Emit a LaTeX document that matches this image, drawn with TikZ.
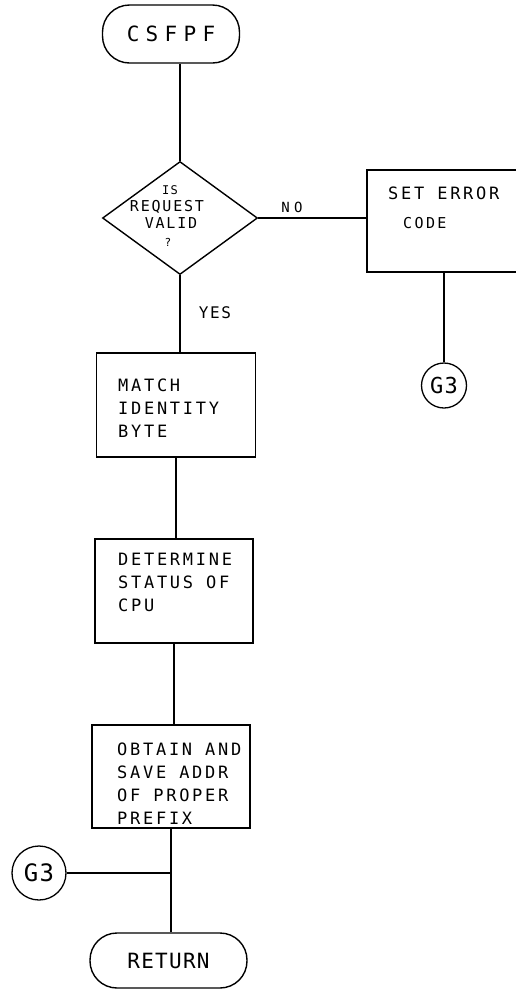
\documentclass[tikz,border=0pt]{standalone}
\usepackage{fontspec}
\newfontfamily\hand{DejaVu Sans Mono}
\usetikzlibrary{shapes.geometric}
\newcommand{\hw}[2]{\hand\fontsize{#1}{23}\selectfont\addfontfeature{LetterSpace=#2}}
\tikzset{
  ln/.style={line width=1.4pt},
  term/.style={draw, line width=1.4pt, rectangle, rounded corners=27pt, inner sep=0pt},
  proc/.style={draw, line width=1.4pt, rectangle, inner sep=0pt},
  conn/.style={draw, line width=1.3pt, circle, inner sep=0pt},
  dia/.style={draw, line width=1.4pt, diamond, inner sep=0pt},
  txt/.style={inner sep=0pt, align=left, anchor=north west, font=\hw{17}{16}},
  lbl/.style={inner sep=0pt},
}
\begin{document}
\begin{tikzpicture}[x=1pt,y=-1pt]
\useasboundingbox (0,0) rectangle (516,989);
% shapes
\node[term, minimum width=137pt, minimum height=58pt, font=\hw{21}{30}] (start) at (171,34) {CSFPF};
\node[dia, minimum width=155pt, minimum height=113pt] (dec) at (180,218) {};
\node[proc, minimum width=163pt, minimum height=102pt] (err) at (448.5,221) {};
\node[conn, minimum size=45pt, font=\hw{22}{5}] (g3a) at (444,385.5) {G3};
\node[proc, minimum width=159pt, minimum height=104pt] (match) at (176,405) {};
\node[proc, minimum width=158pt, minimum height=104pt] (det) at (174,591) {};
\node[proc, minimum width=158pt, minimum height=103pt] (obt) at (171,776.5) {};
\node[conn, minimum size=54pt, font=\hw{24}{5}] (g3b) at (39,873) {G3};
\node[term, minimum width=157pt, minimum height=55pt, font=\hw{21}{6}] (ret) at (168.5,960.5) {RETURN};
\coordinate (j) at (obt.south |- g3b.east);
% texts
\node[lbl, font=\hw{12}{10}] (t1) at (170,190) {IS};
\node[lbl, font=\hw{15}{12}] (t2) at (167,207) {REQUEST};
\node[lbl, font=\hw{15}{12}] (t3) at (171,223) {VALID};
\node[lbl, font=\hw{11}{0}] (t4) at (168,242) {?};
\node[txt] (tm) at (118,379) {MATCH\\IDENTITY\\BYTE};
\node[txt] (td) at (118,553) {DETERMINE\\STATUS OF\\CPU};
\node[txt] (to) at (117,743) {OBTAIN AND\\SAVE ADDR\\OF PROPER\\PREFIX};
\node[txt] (te1) at (388,187) {SET ERROR};
\node[txt, font=\hw{15}{16}] (te2) at (403,217) {CODE};
\node[lbl, font=\hw{14}{30}] (no) at (292,207) {NO};
\node[lbl, font=\hw{16}{10}] (yes) at (215,313) {YES};
% connectors
\draw[ln] (start.south -| dec.north) -- (dec.north);
\draw[ln] (dec.east) -- (dec.east -| err.west);
\draw[ln] (g3a.north |- err.south) -- (g3a.north);
\draw[ln] (dec.south) -- (dec.south |- match.north);
\draw[ln] (match.south) -- (match.south |- det.north);
\draw[ln] (det.south) -- (det.south |- obt.north);
\draw[ln] (obt.south) -- (obt.south |- ret.north);
\draw[ln] (g3b.east) -- (j);
\end{tikzpicture}
\end{document}
